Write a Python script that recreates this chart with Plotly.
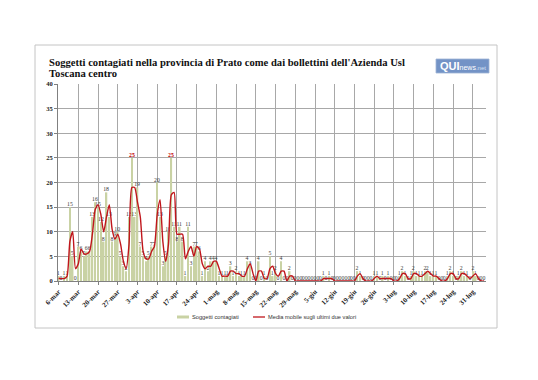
import plotly.graph_objects as go
import pandas as pd

# ---------------- data ----------------
start_date = "2020-03-05"
cases = [
    0, 1, 0, 1, 1, 15, 5, 0, 7, 6,          # d0-d9
    5, 6, 6, 13, 16, 15, 12, 8, 18, 13,     # d10-d19
    8, 9, 10, 5, 3, 2, 13, 25, 13, 19,      # d20-d29
    7, 5, 4, 5, 7, 7, 20, 13, 3, 5,         # d30-d39
    10, 25, 11, 8, 11, 8, 1, 11, 3, 7,      # d40-d49
    7, 6, 1, 4, 2, 4, 4, 4, 1, 1,           # d50-d59
    1, 1, 3, 1, 2, 1, 1, 1, 4, 3,           # d60-d69
    0, 0, 4, 0, 1, 0, 5, 1, 2, 0,           # d70-d79
    4, 0, 0, 2, 0, 0, 0, 0, 0, 0,           # d80-d89
    0, 0, 0, 0, 0, 1, 0, 1, 0, 0,           # d90-d99
    0, 0, 0, 0, 0, 0, 0, 2, 1, 0,           # d100-d109
    0, 0, 0, 1, 1, 0, 1, 0, 1, 0,           # d110-d119
    0, 0, 1, 2, 1, 0, 1, 2, 1, 1,           # d120-d129
    1, 2, 2, 1, 1, 1, 0, 0, 0, 1,           # d130-d139
    2, 1, 0, 1, 2, 1, 1, 0, 2, 1,           # d140-d149
    0, 0, 0,                                # d150-d152
]
# moving average over the last two values, as drawn (starts on the 2nd day)
moving_avg = [
    0.5, 0.5, 0.5, 1, 8, 10, 2.5, 3.5, 6.5, 5.5,
    5.5, 6, 9.5, 14.5, 15.5, 13.5, 10, 13, 15.5, 10.5,
    8.5, 9.5, 7.5, 4, 2.5, 7.5, 19, 19, 16, 13,
    6, 4.5, 4.5, 6, 7, 13.5, 16.5, 8, 4, 7.5,
    17.5, 18, 9.5, 9.5, 9.5, 4.5, 6, 7, 5, 7,
    6.5, 3.5, 2.5, 3, 3, 4, 4, 2.5, 1, 1,
    1, 2, 2, 1.5, 1.5, 1, 1, 2.5, 3.5, 1.5,
    0, 2, 2, 0.5, 0.5, 2.5, 3, 1.5, 1, 2,
    2, 0, 1, 1, 0, 0, 0, 0, 0, 0,
    0, 0, 0, 0, 0.5, 0.5, 0.5, 0.5, 0, 0,
    0, 0, 0, 0, 0, 0, 1, 1.5, 0.5, 0,
    0, 0, 0.5, 1, 0.5, 0.5, 0.5, 0.5, 0.5, 0,
    0, 0.5, 1.5, 1.5, 0.5, 0.5, 1.5, 1.5, 1, 1,
    1.5, 2, 1.5, 1, 1, 0.5, 0, 0, 0.5, 1.5,
    1.5, 0.5, 0.5, 1.5, 1.5, 1, 0.5, 1, 1.5, 0.5,
    0, 0,
]
tick_labels = ["6-mar", "13-mar", "20-mar", "27-mar", "3-apr", "10-apr", "17-apr",
               "24-apr", "1-mag", "8-mag", "15-mag", "22-mag", "29-mag", "5-giu",
               "12-giu", "19-giu", "26-giu", "3-lug", "10-lug", "17-lug", "24-lug",
               "31-lug"]
y_ticks = [0, 5, 10, 15, 20, 25, 30, 35, 40]

dates = pd.date_range(start_date, periods=len(cases), freq="D")
ma_dates = dates[len(cases) - len(moving_avg):]
tick_dates = pd.date_range("2020-03-06", periods=len(tick_labels), freq="7D")

peak = max(cases)
bar_text = [f"<b>{v}</b>" if v == peak else str(v) for v in cases]
bar_text_col = ["#c00000" if v == peak else "#3a3a3a" for v in cases]

# ---------------- geometry helpers (page pixel coords) ----------------
OFF = 8                      # page body margin
W, H = 538 - OFF, 380 - OFF  # figure size
L, R, T, B = 58, 486, 84, 281


def px(x):
    return (x - L) / (R - L)


def py(y):
    return (B - y) / (B - T)


SERIF = "Liberation Serif"
SANS = "Liberation Sans"

fig = go.Figure()
fig.add_trace(go.Bar(
    x=dates, y=cases, name="Soggetti contagiati",
    marker=dict(color="#c9d2a4", line=dict(width=0)),
    text=bar_text, textposition="outside", cliponaxis=False,
    constraintext="none",
    textfont=dict(family=SERIF, size=5.8, color=bar_text_col),
    hoverinfo="x+y",
))
fig.add_trace(go.Scatter(
    x=ma_dates, y=moving_avg, mode="lines", name="Media mobile sugli ultimi due valori",
    line=dict(color="#c0161c", width=1.4, shape="spline", smoothing=0.6),
))

fig.update_layout(
    width=W, height=H, autosize=False,
    paper_bgcolor="white", plot_bgcolor="white",
    margin=dict(l=L - OFF, r=W - (R - OFF), t=T - OFF, b=H - (B - OFF), autoexpand=False),
    showlegend=False, bargap=0.45,
    xaxis=dict(
        type="date",
        range=["2020-03-05 19:00", "2020-08-04 16:00"],
        tickvals=list(tick_dates), ticktext=tick_labels,
        tickangle=-45,
        tickfont=dict(family=SERIF, size=7, color="#222222", weight="bold"),
        showgrid=True, gridcolor="#a8a8a8", gridwidth=0.8,
        showline=True, linecolor="#808080", linewidth=1,
        ticks="outside", ticklen=3, tickcolor="#808080",
        zeroline=False,
    ),
    yaxis=dict(
        range=[0, 40], tickvals=y_ticks,
        tickfont=dict(family=SERIF, size=6.5, color="#222222", weight="bold"),
        showgrid=True, gridcolor="#a8a8a8", gridwidth=0.8,
        showline=True, linecolor="#808080", linewidth=1,
        ticks="outside", ticklen=3, tickcolor="#808080",
        zeroline=False,
    ),
    font=dict(family=SERIF),
)

# chart frame
fig.add_shape(type="rect", xref="paper", yref="paper",
              x0=px(35), x1=px(497), y0=py(328), y1=py(45),
              line=dict(color="#c4c4c4", width=1), fillcolor="rgba(0,0,0,0)",
              layer="below")

# title (two lines)
for txt, yc in [("Soggetti contagiati nella provincia di Prato come dai bollettini dell'Azienda Usl", 62),
                ("Toscana centro", 73.5)]:
    fig.add_annotation(
        xref="paper", yref="paper", x=px(47), y=py(yc), xanchor="left", yanchor="middle",
        text=f"<b>{txt}</b>", showarrow=False, align="left",
        font=dict(family=SERIF, size=10.6, color="#111111"),
    )

# logo
fig.add_shape(type="rect", xref="paper", yref="paper",
              x0=px(436), x1=px(489), y0=py(73), y1=py(59),
              line=dict(color="#9fb4d6", width=0.8), fillcolor="#7393c6")
fig.add_annotation(
    xref="paper", yref="paper", x=px(462.5), y=py(66), xanchor="center", yanchor="middle",
    text="<b><span style='font-size:11px'>QUI</span></b><span style='font-size:7px'>news</span>"
         "<span style='font-size:6px;fill:#d6e2f5'>.net</span>",
    showarrow=False, font=dict(family=SANS, size=9, color="white"),
)

# legend (drawn manually)
fig.add_shape(type="rect", xref="paper", yref="paper",
              x0=px(177), x1=px(189), y0=py(318.5), y1=py(315.5),
              line=dict(width=0), fillcolor="#c9d2a4")
fig.add_annotation(xref="paper", yref="paper", x=px(190), y=py(317.3), xanchor="left",
                   yanchor="middle", text="Soggetti contagiati", showarrow=False,
                   font=dict(family=SANS, size=5.7, color="#333333"))
fig.add_shape(type="line", xref="paper", yref="paper",
              x0=px(253), x1=px(265), y0=py(317), y1=py(317),
              line=dict(color="#c0161c", width=1.3))
fig.add_annotation(xref="paper", yref="paper", x=px(266), y=py(317.3), xanchor="left",
                   yanchor="middle", text="Media mobile sugli ultimi due valori",
                   showarrow=False, font=dict(family=SANS, size=5.7, color="#333333"))

fig.write_html("out.html")
